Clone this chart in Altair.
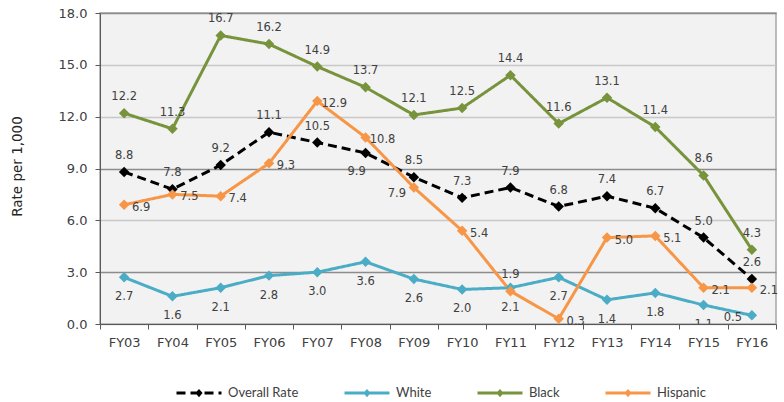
import altair as alt
import pandas as pd

years = ["FY03", "FY04", "FY05", "FY06", "FY07", "FY08", "FY09",
         "FY10", "FY11", "FY12", "FY13", "FY14", "FY15", "FY16"]
overall = [8.8, 7.8, 9.2, 11.1, 10.5, 9.9, 8.5, 7.3, 7.9, 6.8, 7.4, 6.7, 5.0, 2.6]
white = [2.7, 1.6, 2.1, 2.8, 3.0, 3.6, 2.6, 2.0, 2.1, 2.7, 1.4, 1.8, 1.1, 0.5]
black = [12.2, 11.3, 16.7, 16.2, 14.9, 13.7, 12.1, 12.5, 14.4, 11.6, 13.1, 11.4, 8.6, 4.3]
hispanic = [6.9, 7.5, 7.4, 9.3, 12.9, 10.8, 7.9, 5.4, 1.9, 0.3, 5.0, 5.1, 2.1, 2.1]

series_names = ["Overall Rate", "White", "Black", "Hispanic"]
series_values = [overall, white, black, hispanic]
series_colors = ["#000000", "#4bacc6", "#77933c", "#f79646"]

# label placement style per series, with a few exceptions
default_place = {"Overall Rate": "above", "White": "below", "Black": "above", "Hispanic": "right"}
place_exceptions = {("Overall Rate", "FY08"): "below2", ("Hispanic", "FY11"): "above",
                    ("White", "FY16"): "left", ("Hispanic", "FY09"): "leftbelow"}
offsets = {"above": (0, -16), "below": (0, 20), "below2": (-9, 19),
           "right": (17, 3), "left": (-19, 3), "leftbelow": (-17, 6)}

rows = []
for name, vals in zip(series_names, series_values):
    for y, v in zip(years, vals):
        rows.append({"series": name, "year": y, "value": v, "label": f"{v:.1f}",
                     "place": place_exceptions.get((name, y), default_place[name])})
df = pd.DataFrame(rows)

FONT = "DejaVu Sans"

x_enc = alt.X("year:N", sort=years,
              scale=alt.Scale(type="band", domain=years, paddingInner=0, paddingOuter=0),
              axis=alt.Axis(title=None, tickBand="extent", tickSize=5, labelPadding=7,
                            labelAngle=0, grid=False, domainColor="#595959", tickColor="#595959",
                            labelFont=FONT, labelFontSize=13, labelColor="#404040"))
y_enc = alt.Y("value:Q", scale=alt.Scale(domain=[0, 18], nice=False),
              axis=alt.Axis(title="Rate per 1,000", values=[0, 3, 6, 9, 12, 15, 18], format=".1f",
                            tickSize=5, labelPadding=8, domainColor="#595959", tickColor="#595959",
                            labelFont=FONT, labelFontSize=13, labelColor="#404040",
                            gridColor={"condition": {"test": "datum.value == 3 || datum.value == 9 || datum.value == 18",
                                                     "value": "#8c8c8c"}, "value": "#c8c8c8"},
                            gridWidth=1.5,
                            titleFont=FONT, titleFontSize=13.5, titleFontWeight="normal",
                            titleColor="#262626", titleX=-83, titleY=153, titleAngle=-90,
                            titleAlign="center", titleBaseline="middle"))

legend = alt.Legend(title=None, orient="none", legendX=75, legendY=356, direction="horizontal",
                    symbolType="M-1,0H1M-0.07,0L0,-0.08L0.07,0L0,0.08Z", symbolSize=2025,
                    symbolStrokeWidth=3, labelFont="Lato", labelFontSize=13, labelColor="#404040",
                    columnPadding=39, labelOffset=5, padding=0)

color_scale = alt.Scale(domain=series_names, range=series_colors)
dash_scale = alt.Scale(domain=series_names, range=[[9, 5], [1, 0], [1, 0], [1, 0]])

base = alt.Chart(df)

lines = base.mark_line(strokeWidth=3).encode(
    x=x_enc, y=y_enc,
    color=alt.Color("series:N", scale=color_scale, legend=legend),
    strokeDash=alt.StrokeDash("series:N", scale=dash_scale, legend=legend),
    order=alt.Order("series:N"),
)

points = base.mark_point(shape="diamond", filled=True, size=110, opacity=1).encode(
    x=x_enc, y=y_enc,
    color=alt.Color("series:N", scale=color_scale, legend=legend),
)

text_layers = []
for place, (dx, dy) in offsets.items():
    t = base.transform_filter(alt.datum.place == place).mark_text(
        dx=dx, dy=dy, font=FONT, fontSize=11.5, color="#404040", clip=(place == "below")
    ).encode(x=x_enc, y=y_enc, text="label:N")
    text_layers.append(t)

chart = alt.layer(lines, points, *text_layers).properties(
    width=676, height=311,
    autosize=alt.AutoSizeParams(type="none"),
    padding={"left": 100, "top": 13, "right": 8, "bottom": 78},
).configure_view(fill="#f2f2f2", stroke="#a6a6a6", strokeWidth=1.5)

chart.save("out.html", embed_options={"renderer": "svg", "actions": False})
